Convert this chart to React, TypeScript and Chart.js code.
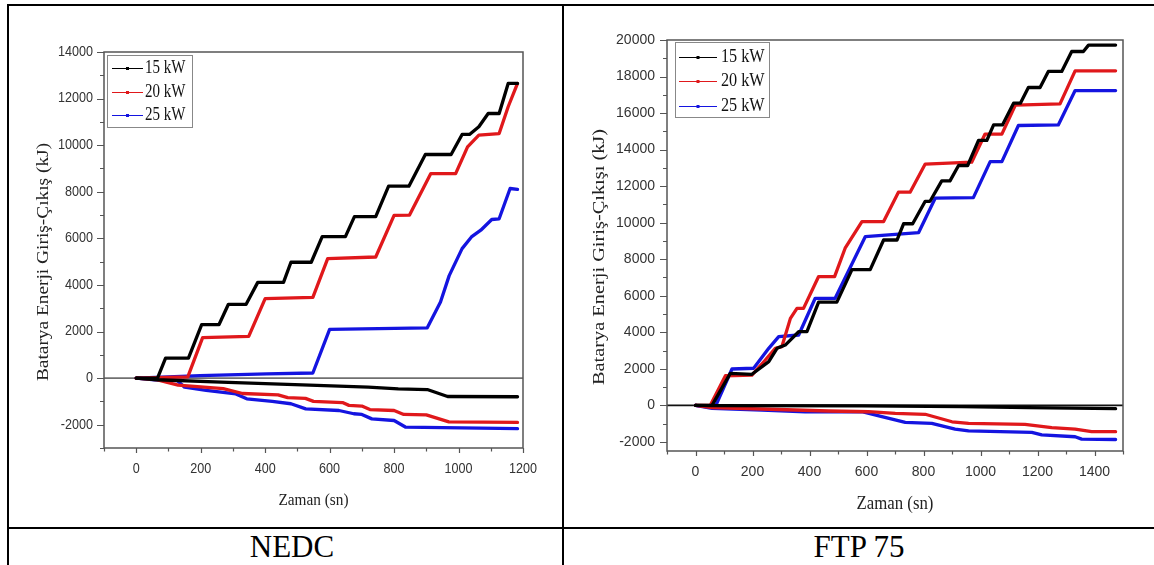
import React, { useEffect, useRef } from 'react';
import { Chart, registerables } from 'chart.js';

Chart.register(...registerables);

type Pt = [number, number];

// ---------- shared ----------
const SERIES_LABELS = ['15 kW', '20 kW', '25 kW'];
const SERIES_COLORS = ['#000000', '#e0181b', '#1414e0'];
const X_TITLE = 'Zaman (sn)';
const CAPTIONS = ['NEDC', 'FTP 75'];

// ---------- NEDC ----------
const NEDC_Y_TITLE = 'Batarya Enerji Giriş-Çıkış (kJ)';
const NEDC_X_TICKS = [0, 200, 400, 600, 800, 1000, 1200];
const NEDC_Y_TICKS = [-2000, 0, 2000, 4000, 6000, 8000, 10000, 12000, 14000];

const NEDC_15_CHG: Pt[] = [[0, 0], [66, 0], [91, 860], [162, 860], [203, 2300], [257, 2300], [286, 3170], [341, 3170], [377, 4110], [457, 4110], [480, 4975], [543, 4975], [577, 6075], [649, 6075], [677, 6935], [743, 6935], [783, 8240], [846, 8240], [897, 9600], [977, 9600], [1011, 10460], [1034, 10460], [1063, 10790], [1092, 11360], [1126, 11360], [1154, 12650], [1183, 12650]];
const NEDC_20_CHG: Pt[] = [[0, 0], [160, 50], [206, 1740], [349, 1790], [400, 3410], [548, 3470], [594, 5130], [743, 5200], [800, 6990], [848, 7000], [914, 8780], [991, 8780], [1028, 9930], [1063, 10430], [1126, 10500], [1154, 11650], [1183, 12650]];
const NEDC_25_CHG: Pt[] = [[0, 0], [198, 110], [405, 185], [548, 220], [600, 2090], [903, 2160], [944, 3270], [971, 4400], [1011, 5560], [1040, 6060], [1069, 6350], [1103, 6810], [1126, 6840], [1160, 8140], [1183, 8100]];
const NEDC_15_DIS: Pt[] = [[0, 0], [66, -70], [263, -170], [515, -290], [720, -390], [813, -460], [903, -490], [966, -790], [1183, -800]];
const NEDC_20_DIS: Pt[] = [[0, 0], [60, -60], [130, -300], [270, -450], [330, -660], [440, -720], [470, -840], [525, -870], [550, -1000], [640, -1050], [660, -1170], [700, -1200], [725, -1350], [800, -1390], [830, -1560], [900, -1580], [970, -1880], [1183, -1900]];
const NEDC_25_DIS: Pt[] = [[0, 0], [57, -70], [128, -110], [150, -390], [217, -530], [309, -680], [343, -890], [422, -1000], [480, -1100], [526, -1320], [629, -1390], [675, -1530], [700, -1560], [731, -1750], [800, -1820], [835, -2100], [1183, -2170]];

// ---------- FTP 75 ----------
const FTP_Y_TITLE = 'Batarya Enerji Giriş-Çıkışı (kJ)';
const FTP_X_TICKS = [0, 200, 400, 600, 800, 1000, 1200, 1400];
const FTP_Y_TICKS = [-2000, 0, 2000, 4000, 6000, 8000, 10000, 12000, 14000, 16000, 18000, 20000];

const FTP_15_CHG: Pt[] = [[0, 0], [58, 0], [122, 1750], [198, 1700], [257, 2390], [286, 3120], [315, 3300], [362, 4030], [391, 4030], [432, 5650], [496, 5650], [549, 7430], [613, 7430], [660, 9050], [707, 9050], [730, 9940], [762, 9940], [806, 11170], [823, 11170], [864, 12290], [893, 12290], [923, 13130], [955, 13130], [993, 14500], [1022, 14500], [1046, 15350], [1077, 15350], [1116, 16540], [1140, 16540], [1168, 17400], [1209, 17400], [1238, 18280], [1285, 18280], [1320, 19370], [1361, 19370], [1379, 19720], [1474, 19720]];
const FTP_20_CHG: Pt[] = [[0, 0], [52, 0], [105, 1620], [198, 1650], [245, 2480], [280, 3120], [303, 3210], [333, 4760], [356, 5310], [379, 5310], [432, 7050], [488, 7050], [525, 8600], [584, 10060], [660, 10060], [712, 11670], [753, 11670], [806, 13210], [969, 13310], [1016, 14850], [1075, 14850], [1122, 16430], [1279, 16500], [1332, 18310], [1474, 18310]];
const FTP_25_CHG: Pt[] = [[0, 0], [55, -100], [70, -60], [128, 1990], [204, 2030], [257, 3120], [292, 3760], [362, 3850], [420, 5860], [490, 5860], [596, 9240], [783, 9460], [841, 11340], [975, 11370], [1034, 13340], [1075, 13340], [1133, 15320], [1273, 15350], [1332, 17230], [1474, 17230]];
const FTP_15_DIS: Pt[] = [[0, 0], [60, -20], [584, -30], [934, -70], [1168, -130], [1474, -180]];
const FTP_20_DIS: Pt[] = [[0, 0], [58, -130], [233, -200], [467, -310], [607, -350], [701, -440], [806, -490], [900, -900], [958, -990], [1156, -1040], [1250, -1220], [1332, -1300], [1390, -1440], [1474, -1440]];
const FTP_25_DIS: Pt[] = [[0, 0], [58, -165], [233, -255], [385, -350], [584, -350], [654, -620], [736, -930], [829, -985], [911, -1300], [958, -1400], [1180, -1480], [1215, -1620], [1332, -1720], [1355, -1850], [1474, -1870]];

interface PanelCfg {
  left: number; top: number; width: number; height: number;
  pad: { left: number; top: number; right: number; bottom: number };
  xMin: number; xMax: number; yMin: number; yMax: number;
  xTicks: number[]; yTicks: number[]; xMinorStep: number; yMinorStep: number;
  chg: Pt[][]; dis: Pt[][];
  yTitle: string;
  zeroColor: string;
  tickFont: number; tickStretch: number; yLabelGap: number; xLabelOff: number;
  xTitleFont: number; xTitleStretch: number; xTitleOff: number;
  yTitleFont: number; yTitleStretch: number; yTitleOffX: number; yTitleOffY: number;
  legend: { dx: number; dy: number; w: number; h: number; rows: number[]; l0: number; l1: number; tx: number; font: number; stretch: number };
}

const SERIF = '"Liberation Serif", "Times New Roman", serif';
const SANS = '"Liberation Sans", Arial, sans-serif';

function drawText(ctx: CanvasRenderingContext2D, text: string, x: number, y: number, size: number, family: string,
  align: CanvasTextAlign, stretch: number, rot: boolean, color: string) {
  ctx.save();
  ctx.translate(x, y);
  if (rot) {
    ctx.rotate(-Math.PI / 2);
    ctx.scale(stretch, 1);
  } else {
    ctx.scale(1, stretch);
  }
  ctx.font = `${size}px ${family}`;
  ctx.textAlign = align;
  ctx.textBaseline = 'middle';
  ctx.fillStyle = color;
  ctx.fillText(text, 0, 0);
  ctx.restore();
}

function makeDecor(c: PanelCfg) {
  return {
    id: 'panelDecor',
    beforeDatasetsDraw(chart: any) {
      const { ctx, chartArea: a, scales } = chart;
      const y0 = scales.y.getPixelForValue(0);
      ctx.save();
      ctx.strokeStyle = c.zeroColor;
      ctx.lineWidth = 1.6;
      ctx.beginPath();
      ctx.moveTo(a.left, y0);
      ctx.lineTo(a.right, y0);
      ctx.stroke();
      ctx.restore();
    },
    afterDatasetsDraw(chart: any) {
      const { ctx, chartArea: a, scales } = chart;
      const xs = scales.x, ys = scales.y;
      ctx.save();
      // frame
      ctx.strokeStyle = '#555';
      ctx.lineWidth = 1.5;
      ctx.strokeRect(a.left, a.top, a.right - a.left, a.bottom - a.top);
      // ticks
      ctx.lineWidth = 1.2;
      ctx.beginPath();
      for (let v = c.xMin; v <= c.xMax + 1e-6; v += c.xMinorStep) {
        const px = Math.round(xs.getPixelForValue(v)) + 0.5;
        const len = c.xTicks.includes(v) ? 5 : 3.5;
        ctx.moveTo(px, a.bottom);
        ctx.lineTo(px, a.bottom + len);
      }
      for (let v = Math.ceil(c.yMin / c.yMinorStep) * c.yMinorStep; v <= c.yMax + 1e-6; v += c.yMinorStep) {
        const py = Math.round(ys.getPixelForValue(v)) + 0.5;
        const len = c.yTicks.includes(v) ? 7 : 4;
        ctx.moveTo(a.left, py);
        ctx.lineTo(a.left - len, py);
      }
      ctx.stroke();
      // tick labels
      for (const v of c.xTicks) {
        drawText(ctx, String(v), xs.getPixelForValue(v), a.bottom + c.xLabelOff, c.tickFont, SANS, 'center', c.tickStretch, false, '#333');
      }
      for (const v of c.yTicks) {
        drawText(ctx, String(v), a.left - c.yLabelGap, ys.getPixelForValue(v), c.tickFont, SANS, 'right', c.tickStretch, false, '#333');
      }
      // axis titles
      const cx = (a.left + a.right) / 2;
      const cy = (a.top + a.bottom) / 2;
      drawText(ctx, X_TITLE, cx, a.bottom + c.xTitleOff, c.xTitleFont, SERIF, 'center', c.xTitleStretch, false, '#222');
      drawText(ctx, c.yTitle, a.left - c.yTitleOffX, cy + c.yTitleOffY, c.yTitleFont, SERIF, 'center', c.yTitleStretch, true, '#222');
      // legend
      const L = c.legend;
      const bx = a.left + L.dx, by = a.top + L.dy;
      ctx.fillStyle = '#fff';
      ctx.fillRect(bx, by, L.w, L.h);
      ctx.strokeStyle = '#888';
      ctx.lineWidth = 1;
      ctx.strokeRect(bx + 0.5, by + 0.5, L.w, L.h);
      SERIES_LABELS.forEach((lab, i) => {
        const ry = by + L.rows[i];
        ctx.strokeStyle = SERIES_COLORS[i];
        ctx.lineWidth = 1;
        ctx.beginPath();
        ctx.moveTo(bx + L.l0, ry + 0.5);
        ctx.lineTo(bx + L.l1, ry + 0.5);
        ctx.stroke();
        ctx.fillStyle = SERIES_COLORS[i];
        const mx = bx + (L.l0 + L.l1) / 2;
        ctx.fillRect(mx - 1.5, ry - 1, 3, 3);
        drawText(ctx, lab, bx + L.tx, ry, L.font, SERIF, 'left', L.stretch, false, '#111');
      });
      ctx.restore();
    },
  };
}

function Panel({ c }: { c: PanelCfg }) {
  const ref = useRef<HTMLCanvasElement>(null);
  useEffect(() => {
    if (!ref.current) return;
    const datasets: any[] = [];
    c.chg.forEach((pts, i) => {
      [pts, c.dis[i]].forEach((series) => {
        datasets.push({
          label: SERIES_LABELS[i],
          data: series.map(([x, y]) => ({ x, y })),
          borderColor: SERIES_COLORS[i],
          backgroundColor: SERIES_COLORS[i],
          borderWidth: 3.3,
          pointRadius: 0,
          tension: 0,
          fill: false,
          borderJoinStyle: 'round',
          borderCapStyle: 'round',
        });
      });
    });
    const chart = new Chart(ref.current, {
      type: 'line',
      data: { datasets },
      options: {
        responsive: false,
        maintainAspectRatio: false,
        animation: false,
        events: [],
        layout: { padding: c.pad },
        scales: {
          x: { type: 'linear', min: c.xMin, max: c.xMax, display: false },
          y: { type: 'linear', min: c.yMin, max: c.yMax, display: false },
        },
        plugins: { legend: { display: false }, tooltip: { enabled: false } },
      },
      plugins: [makeDecor(c)],
    } as any);
    return () => chart.destroy();
  }, [c]);
  return (
    <canvas
      ref={ref}
      width={c.width}
      height={c.height}
      style={{ position: 'absolute', left: c.left, top: c.top, width: c.width, height: c.height }}
    />
  );
}

const NEDC_CFG: PanelCfg = {
  left: 9, top: 6, width: 552, height: 520,
  pad: { left: 95, top: 46, right: 38, bottom: 78 },
  xMin: -100, xMax: 1200, yMin: -3000, yMax: 14000,
  xTicks: NEDC_X_TICKS, yTicks: NEDC_Y_TICKS, xMinorStep: 100, yMinorStep: 1000,
  chg: [NEDC_15_CHG, NEDC_20_CHG, NEDC_25_CHG],
  dis: [NEDC_15_DIS, NEDC_20_DIS, NEDC_25_DIS],
  yTitle: NEDC_Y_TITLE,
  zeroColor: '#707070',
  tickFont: 12.6, tickStretch: 1.1, yLabelGap: 11, xLabelOff: 21,
  xTitleFont: 15.3, xTitleStretch: 1.15, xTitleOff: 52,
  yTitleFont: 16.7, yTitleStretch: 1.16, yTitleOffX: 60, yTitleOffY: 12,
  legend: { dx: 3, dy: 3, w: 85, h: 72, rows: [13, 37, 60], l0: 5, l1: 36, tx: 38, font: 15, stretch: 1.3 },
};

const FTP_CFG: PanelCfg = {
  left: 565, top: 6, width: 589, height: 520,
  pad: { left: 102, top: 34, right: 31, bottom: 75 },
  xMin: -100, xMax: 1500, yMin: -2500, yMax: 20000,
  xTicks: FTP_X_TICKS, yTicks: FTP_Y_TICKS, xMinorStep: 100, yMinorStep: 1000,
  chg: [FTP_15_CHG, FTP_20_CHG, FTP_25_CHG],
  dis: [FTP_15_DIS, FTP_20_DIS, FTP_25_DIS],
  yTitle: FTP_Y_TITLE,
  zeroColor: '#111',
  tickFont: 14, tickStretch: 1.0, yLabelGap: 12, xLabelOff: 21,
  xTitleFont: 16.8, xTitleStretch: 1.1, xTitleOff: 53,
  yTitleFont: 16.7, yTitleStretch: 1.22, yTitleOffX: 67, yTitleOffY: 11.5,
  legend: { dx: 8, dy: 2, w: 94, h: 75, rows: [15, 39, 64], l0: 4, l1: 42, tx: 46, font: 16.2, stretch: 1.22 },
};

export default function App() {
  const line = (s: React.CSSProperties) => <div style={{ position: 'absolute', background: '#000', ...s }} />;
  const caption = (text: string, cx: number) => (
    <div
      style={{
        position: 'absolute', left: cx - 150, width: 300, top: 531, textAlign: 'center',
        fontFamily: SERIF, fontSize: 31, lineHeight: '31px', color: '#000',
      }}
    >
      {text}
    </div>
  );
  return (
    <div style={{ position: 'fixed', left: 0, top: 0, width: 1154, height: 565, background: '#fff', overflow: 'hidden' }}>
      <Panel c={NEDC_CFG} />
      <Panel c={FTP_CFG} />
      {line({ left: 7, top: 4, width: 1147, height: 2 })}
      {line({ left: 7, top: 4, width: 2, height: 561 })}
      {line({ left: 562, top: 4, width: 2, height: 561 })}
      {line({ left: 7, top: 527, width: 1147, height: 2 })}
      {caption(CAPTIONS[0], 292)}
      {caption(CAPTIONS[1], 859)}
    </div>
  );
}
